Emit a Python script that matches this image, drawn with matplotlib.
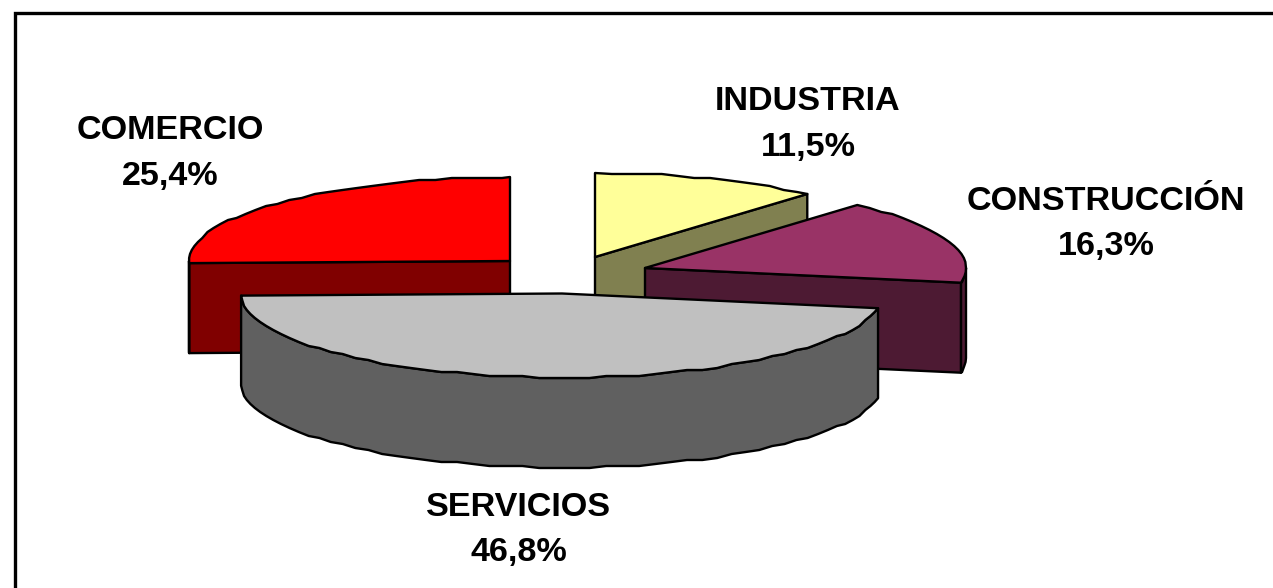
import matplotlib
matplotlib.use('Agg')
import matplotlib.pyplot as plt
import numpy as np
from matplotlib.patches import Polygon

# values in clockwise order starting from 12 o'clock
labels = ['INDUSTRIA', 'CONSTRUCCIÓN', 'SERVICIOS', 'COMERCIO']
values = [11.5, 16.3, 46.8, 25.4]
top_colors = ['#FFFF99', '#993366', '#C0C0C0', '#FF0000']
wall_colors = ['#808050', '#4D1A33', '#606060', '#800000']

# layout in pixels
apex = [(595, 257), (645, 268), (562, 293.5), (510, 261)]
label_pos = [(808, 124.5), (1106, 224), (519, 530), (170, 153.5)]
draw_order = [0, 3, 1, 2]
rx, ry = 321, 84
depth = 90

plt.rcParams['font.family'] = ['Liberation Sans', 'DejaVu Sans']

fig = plt.figure(figsize=(12.73, 5.88), dpi=100)
ax = fig.add_axes([0, 0, 1, 1])
ax.set_xlim(0, 1273)
ax.set_ylim(588, 0)
ax.axis('off')


def arc(cx, cy, a0, a1):
    t = np.radians(np.arange(a0, a1, 3.0).tolist() + [a1])
    pts = np.column_stack([cx + rx * np.sin(t), cy - ry * np.cos(t)])
    # the source picture has wobbly outlines, snap the rim heights a bit
    pts[1:-1, 1] = np.round(pts[1:-1, 1] / 2) * 2
    return pts


def face(pts, color, z):
    ax.add_patch(Polygon(pts, closed=True, facecolor=color, edgecolor='black',
                         linewidth=1.7, joinstyle='round', zorder=z))


edges = np.concatenate([[0], np.cumsum(values)]) / sum(values) * 360

for z, i in enumerate(draw_order):
    a0, a1 = edges[i], edges[i + 1]
    cx, cy = apex[i]
    drop = np.array([0, depth])
    z0 = z * 10

    # cut faces that look towards the viewer
    for ang, show in ((a0, np.sin(np.radians(a0)) < 0), (a1, np.sin(np.radians(a1)) > 0)):
        if show:
            p = arc(cx, cy, ang, ang)[0]
            c = np.array([cx, cy])
            face([c, p, p + drop, c + drop], wall_colors[i], z0 + 1)

    # outer wall, only the front half of the rim
    lo, hi = max(a0, 90), min(a1, 270)
    if hi > lo:
        rim = arc(cx, cy, lo, hi)
        face(np.vstack([rim, (rim + drop)[::-1]]), wall_colors[i], z0 + 2)

    # top of the slice
    face(np.vstack([[cx, cy], arc(cx, cy, a0, a1)]), top_colors[i], z0 + 3)

for name, val, (x, y) in zip(labels, values, label_pos):
    txt = f'{name}\n{val:.1f}%'.replace('.', ',')
    ax.text(x, y, txt, ha='center', va='center', fontsize=24.6, fontweight='bold',
            linespacing=1.6, color='black', zorder=100)

# chart frame, only left and top are inside the picture
ax.plot([14.5, 14.5, 1273], [588, 13, 13], color='black', lw=2.4, zorder=101, solid_joinstyle='miter')

fig.savefig('out.png', dpi=100, facecolor='white')
